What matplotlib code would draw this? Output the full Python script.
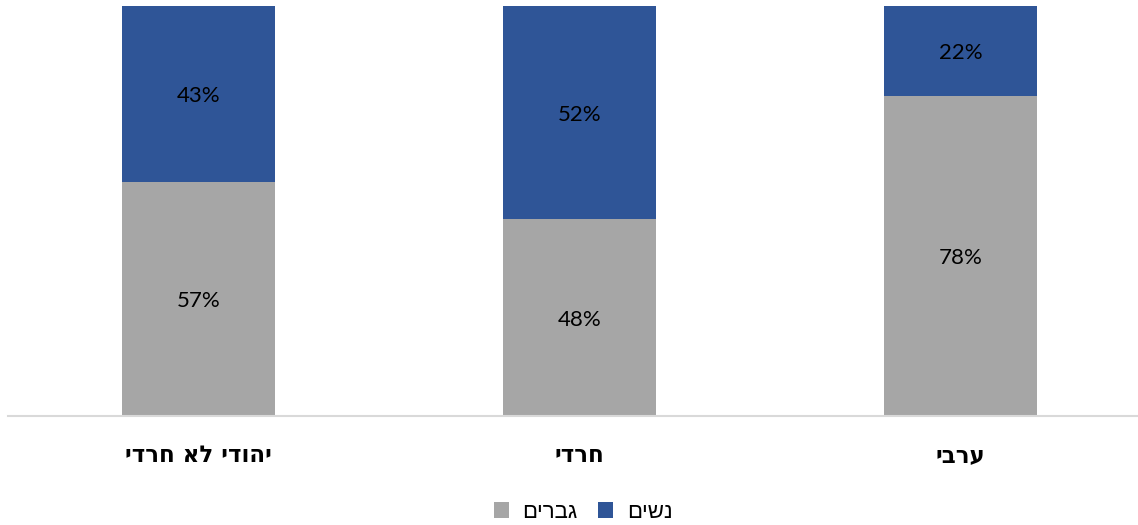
import numpy as np
import matplotlib
matplotlib.use("Agg")
from matplotlib import pyplot as plt

categories = ["יהודי לא חרדי", "חרדי", "ערבי"]
men = [57, 48, 78]
women = [43, 52, 22]
series_names = ["גברים", "נשים"]


def rtl(s):
    # matplotlib has no bidi support, reverse Hebrew by hand
    return s[::-1]


grey = "#a6a6a6"
blue = "#2f5597"
heb_font = ["Liberation Sans", "DejaVu Sans"]

fig = plt.figure(figsize=(11.38, 5.25), dpi=100)
ax = fig.add_axes([8 / 1138, 109 / 525, 1130 / 1138, 410 / 525])

x = np.arange(len(categories))
m = np.array(men) / 100
w = np.array(women) / 100
b1 = ax.bar(x, m, width=0.4, color=grey, label=rtl(series_names[0]))
b2 = ax.bar(x, w, width=0.4, bottom=m, color=blue, label=rtl(series_names[1]))

for i in range(len(x)):
    ax.text(x[i], m[i] / 2 - 0.005, f"{men[i]}%", ha="center", va="center",
            fontsize=16, family=["Lato", "DejaVu Sans"], color="black")
    ax.text(x[i], m[i] + w[i] / 2 - 0.005, f"{women[i]}%", ha="center", va="center",
            fontsize=16, family=["Lato", "DejaVu Sans"], color="black")

ax.set_xlim(-0.5, 2.466)
ax.set_ylim(0, 1)
ax.set_yticks([])
ax.set_xticks(x)
ax.set_xticklabels([rtl(c) for c in categories], fontsize=16.5, fontweight="bold",
                   family=["DejaVu Sans"])
ax.tick_params(axis="x", length=0, pad=20)
for s in ["top", "right", "left"]:
    ax.spines[s].set_visible(False)
ax.spines["bottom"].set_color("#d9d9d9")
ax.spines["bottom"].set_linewidth(1.5)

fig.legend(handles=[b1, b2], loc="center", bbox_to_anchor=(583 / 1138, 1 - 512 / 525),
           ncol=2, frameon=False, prop={"family": heb_font, "size": 16},
           handlelength=0.7, handleheight=0.7, handletextpad=0.6, columnspacing=0.9)

fig.savefig("out.png", dpi=100)
